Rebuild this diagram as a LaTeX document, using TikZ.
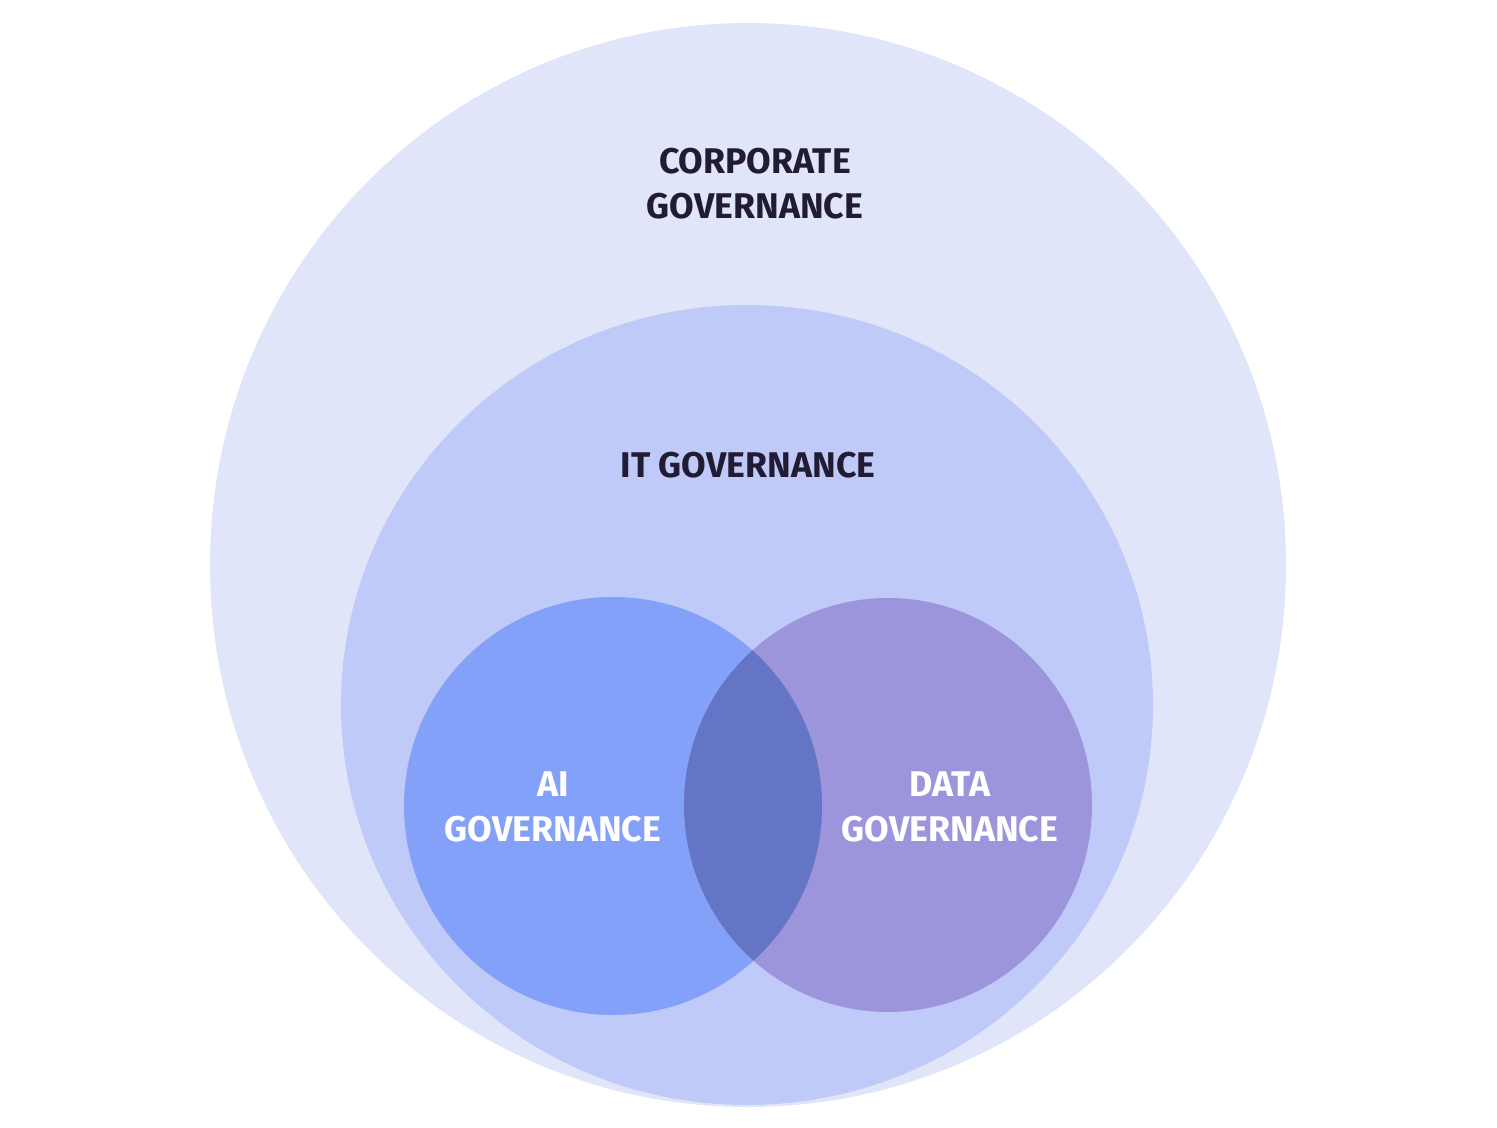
\documentclass[tikz,border=0pt]{standalone}
\usepackage{fontspec}
\setmainfont{Fira Sans}
\definecolor{corp}{HTML}{E1E5F9}
\definecolor{itgov}{HTML}{BFCAF8}
\definecolor{aigov}{HTML}{84A1F9}
\definecolor{datagov}{HTML}{9D95DC}
\definecolor{overlap}{HTML}{6575C5}
\definecolor{ink}{HTML}{211B33}
\begin{document}
\begin{tikzpicture}[x=0.01cm, y=-0.01cm,
  label/.style={font=\fontsize{10.15}{12.8}\selectfont\bfseries, align=center, inner sep=0pt},
  dark/.style={label, text=ink},
  light/.style={label, text=white}]
\useasboundingbox (0,0) rectangle (1497,1128);
\fill[corp] (748,565) ellipse [x radius=538, y radius=542];
\fill[itgov] (747,705) ellipse [x radius=406, y radius=400];
\fill[aigov] (613,806) ellipse [x radius=209, y radius=209];
\fill[datagov] (888,805) ellipse [x radius=204, y radius=207];
\begin{scope}
\clip (613,806) ellipse [x radius=209, y radius=209];
\fill[overlap] (888,805) ellipse [x radius=204, y radius=207];
\end{scope}
\node[dark] (corporate) at (755,184) {CORPORATE\\GOVERNANCE};
\node[dark] (it) at (748,465) {IT GOVERNANCE};
\node[light] (ai) at (553,807) {AI\\GOVERNANCE};
\node[light] (data) at (950,807) {DATA\\GOVERNANCE};
\end{tikzpicture}
\end{document}
